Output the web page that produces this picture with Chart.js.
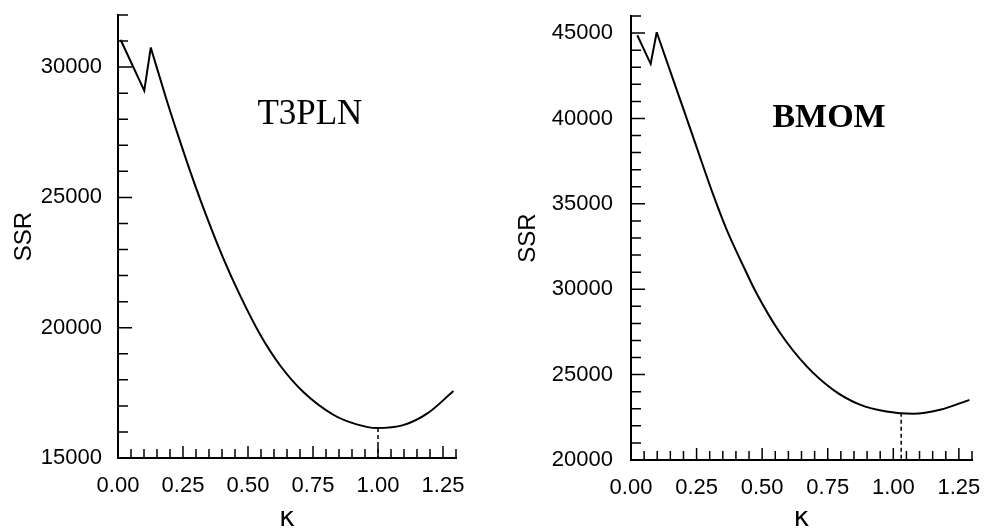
<!DOCTYPE html>
<html>
<head>
<meta charset="utf-8">
<script src="https://cdn.jsdelivr.net/npm/chart.js@4.4.1/dist/chart.umd.min.js"></script>
<style>
  html, body { margin: 0; padding: 0; background: #fff; }
  #wrap { position: relative; width: 986px; height: 530px; }
  .panel { position: absolute; top: 0; width: 493px; height: 530px; }
  #p1 { left: 0; }
  #p2 { left: 493px; }
</style>
</head>
<body>
<div id="wrap">
  <div class="panel" id="p1"><canvas id="c1" width="493" height="530"></canvas></div>
  <div class="panel" id="p2"><canvas id="c2" width="493" height="530"></canvas></div>
</div>
<script>
// SSR profile against the shape parameter κ, T3PLN estimator
const kappaT3PLN = [0.01, 0.101, 0.126, 0.187, 0.232, 0.277, 0.341, 0.405, 0.469, 0.546, 0.623, 0.713, 0.828, 0.918, 0.995, 1.097, 1.190, 1.290];
const ssrT3PLN   = [31050, 29100, 30750, 28740, 27350, 26020, 24260, 22660, 21250, 19750, 18560, 17530, 16660, 16290, 16150, 16260, 16710, 17570];

// SSR profile against κ, BMOM estimator
const kappaBMOM = [0.024, 0.075, 0.098, 0.167, 0.236, 0.313, 0.363, 0.433, 0.479, 0.568, 0.670, 0.771, 0.873, 0.974, 1.076, 1.178, 1.290];
const ssrBMOM   = [44870, 43200, 45050, 42000, 38950, 35550, 33550, 31200, 29750, 27450, 25480, 24110, 23240, 22840, 22710, 22940, 23520];

// κ that minimises SSR, and the SSR there
const kappaMinT3PLN = 1.00;
const ssrMinT3PLN = 16150;
const kappaMinBMOM = 1.03;
const ssrMinBMOM = 22760;

// labelled ticks
const xTickLabels = [0.00, 0.25, 0.50, 0.75, 1.00, 1.25];
const yTickLabelsT3PLN = [15000, 20000, 25000, 30000];
const yTickLabelsBMOM = [20000, 25000, 30000, 35000, 40000, 45000];

Chart.defaults.color = '#000';
Chart.defaults.font.family = '"Liberation Sans", Arial, sans-serif';

// small tick marks pointing into the plot, major and minor
const inwardTicks = {
  id: 'inwardTicks',
  afterDatasetsDraw(chart, args, o) {
    const ctx = chart.ctx;
    const xs = chart.scales.x, ys = chart.scales.y;
    const area = chart.chartArea;
    const isMajor = (v, step) => Math.abs(v / step - Math.round(v / step)) < 1e-6;
    ctx.save();
    ctx.strokeStyle = '#000';
    ctx.lineWidth = 1.5;
    ctx.beginPath();
    const nx = Math.round((xs.max - xs.min) / o.xMinor);
    for (let i = 1; i <= nx; i++) {
      const v = xs.min + i * o.xMinor;
      const px = xs.getPixelForValue(v);
      const len = isMajor(v, o.xMajor) ? 12 : 9;
      ctx.moveTo(px, area.bottom);
      ctx.lineTo(px, area.bottom - len);
    }
    const ny = Math.round((ys.max - ys.min) / o.yMinor);
    for (let i = 1; i <= ny; i++) {
      const v = ys.min + i * o.yMinor;
      const py = ys.getPixelForValue(v);
      const len = isMajor(v, o.yMajor) ? 14 : 10;
      ctx.moveTo(area.left, py);
      ctx.lineTo(area.left + len, py);
    }
    ctx.stroke();
    ctx.restore();
  }
};

// estimator name written inside the plot
const panelLabel = {
  id: 'panelLabel',
  afterDraw(chart, args, o) {
    const ctx = chart.ctx;
    ctx.save();
    ctx.fillStyle = '#000';
    ctx.font = o.font;
    ctx.textAlign = 'center';
    ctx.textBaseline = 'middle';
    ctx.fillText(o.text, chart.scales.x.getPixelForValue(o.kappa), chart.scales.y.getPixelForValue(o.ssr));
    ctx.restore();
  }
};

function makePanel(id, p) {
  const pts = p.kappa.map((k, i) => ({ x: k, y: p.ssr[i] }));
  const jagged = pts.slice(0, 3);   // start, dip and spike: straight segments
  const smooth = pts.slice(2);      // descent to the minimum and beyond
  new Chart(document.getElementById(id), {
    type: 'line',
    data: {
      datasets: [
        { data: jagged, borderColor: '#000', borderWidth: 2, pointRadius: 0, tension: 0 },
        { data: smooth, borderColor: '#000', borderWidth: 2, pointRadius: 0, cubicInterpolationMode: 'monotone' },
        { data: [{ x: p.kMin, y: p.sMin }, { x: p.kMin, y: p.yMin }], borderColor: '#000', borderWidth: 1.5,
          borderDash: [4, 3], pointRadius: 0, tension: 0 }
      ]
    },
    options: {
      responsive: false,
      animation: false,
      devicePixelRatio: 1,
      layout: { padding: p.padding },
      plugins: {
        legend: { display: false },
        tooltip: { enabled: false },
        inwardTicks: { xMinor: 0.05, xMajor: 0.25, yMinor: 1000, yMajor: 5000 },
        panelLabel: p.label
      },
      scales: {
        x: {
          type: 'linear',
          min: 0, max: 1.3,
          afterBuildTicks: s => { s.ticks = xTickLabels.map(v => ({ value: v })); },
          afterFit: s => { s.height = p.xAxisHeight; s.paddingLeft = 0; s.paddingRight = 0; s.paddingTop = 0; s.paddingBottom = 0; },
          ticks: { autoSkip: false, maxRotation: 0, padding: 15, font: { size: 22 },
                   callback: v => Number(v).toFixed(2) },
          grid: { drawOnChartArea: false, drawTicks: false },
          border: { display: true, color: '#000', width: 2 },
          title: { display: true, text: 'κ', font: { family: '"DejaVu Sans", sans-serif', size: 27, lineHeight: 0.8 },
                   padding: { top: 0, bottom: 0 } }
        },
        y: {
          type: 'linear',
          min: p.yMin, max: p.yMax,
          afterBuildTicks: s => { s.ticks = p.yTicks.map(v => ({ value: v })); },
          afterFit: s => { s.width = p.yAxisWidth; s.paddingLeft = 0; s.paddingRight = 0; s.paddingTop = 0; s.paddingBottom = 0; },
          ticks: { padding: p.yTickPad, font: { size: 22 }, callback: v => String(v) },
          grid: { drawOnChartArea: false, drawTicks: false },
          border: { display: true, color: '#000', width: 2 },
          title: { display: true, text: 'SSR', font: { size: 24 }, padding: { top: p.yTitlePad, bottom: 0 } }
        }
      }
    },
    plugins: [inwardTicks, panelLabel]
  });
}

makePanel('c1', {
  kappa: kappaT3PLN, ssr: ssrT3PLN,
  kMin: kappaMinT3PLN, sMin: ssrMinT3PLN,
  yMin: 15000, yMax: 32000, yTicks: yTickLabelsT3PLN,
  padding: { left: 0, right: 37, top: 15, bottom: 0 },
  yAxisWidth: 118, xAxisHeight: 72, yTickPad: 16, yTitlePad: 10,
  label: { text: 'T3PLN', font: '35px "Liberation Serif", serif', kappa: 0.738, ssr: 28180 }
});

makePanel('c2', {
  kappa: kappaBMOM, ssr: ssrBMOM,
  kMin: kappaMinBMOM, sMin: ssrMinBMOM,
  yMin: 20000, yMax: 46000, yTicks: yTickLabelsBMOM,
  padding: { left: 0, right: 14, top: 16, bottom: 0 },
  yAxisWidth: 138, xAxisHeight: 70, yTickPad: 18, yTitlePad: 21,
  label: { text: 'BMOM', font: 'bold 34px "Liberation Serif", serif', kappa: 0.755, ssr: 40000 }
});
</script>
</body>
</html>
